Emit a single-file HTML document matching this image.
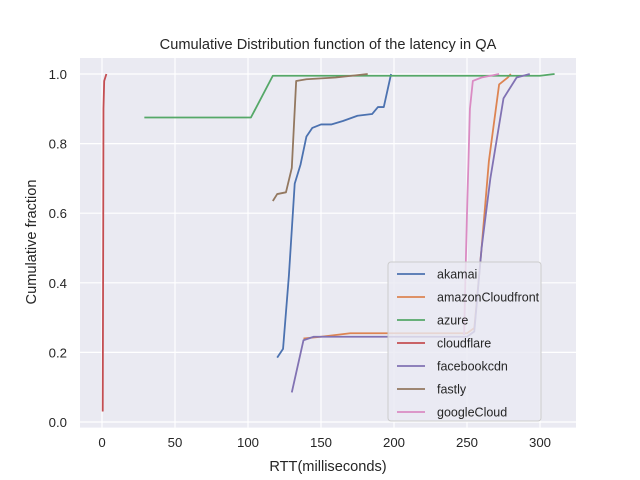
<!DOCTYPE html>
<html><head><meta charset="utf-8"><style>
body{margin:0;background:#fff;}
svg{display:block;font-family:"Liberation Sans",sans-serif;}
</style></head><body>
<svg id="chart" width="640" height="480">
<rect x="80" y="58" width="496" height="369.6" fill="#eaeaf2"/>
<g id="grid"></g>
<g id="series"></g>
<g id="ticks"></g>
<text x="328" y="49" text-anchor="middle" font-size="14.6" fill="#262626">Cumulative Distribution function of the latency in QA</text>
<text x="328" y="471" text-anchor="middle" font-size="14.6" fill="#262626">RTT(milliseconds)</text>
<text transform="translate(36,242) rotate(-90)" text-anchor="middle" font-size="14.6" fill="#262626">Cumulative fraction</text>
<g id="legend"></g>
</svg>
<script>
const xTicks=[0,50,100,150,200,250,300];
const yTicks=[0.0,0.2,0.4,0.6,0.8,1.0];
const seriesNames=["akamai","amazonCloudfront","azure","cloudflare","facebookcdn","fastly","googleCloud"];
const seriesColors=["#4c72b0","#dd8452","#55a868","#c44e52","#8172b3","#937860","#da8bc3"];
const akamaiX=[120,124,128,132,136,140,144,150,157,165,175,185,189,193,198];
const akamaiY=[0.185,0.21,0.42,0.685,0.74,0.82,0.845,0.855,0.855,0.865,0.88,0.885,0.905,0.905,1.0];
const amazonX=[138,150,160,170,250,255,260,265,272,278,280];
const amazonY=[0.24,0.245,0.25,0.255,0.255,0.27,0.5,0.75,0.97,0.99,1.0];
const azureX=[29,102,117,300,310];
const azureY=[0.875,0.875,0.995,0.995,1.0];
const cloudflareX=[0.5,0.8,1,1.5,3];
const cloudflareY=[0.03,0.5,0.9,0.98,1.0];
const facebookX=[130,138,145,250,255,260,266,275,284,293];
const facebookY=[0.085,0.235,0.245,0.245,0.26,0.5,0.7,0.93,0.99,1.0];
const fastlyX=[117,120,126,130,133,140,160,182];
const fastlyY=[0.635,0.655,0.66,0.73,0.98,0.985,0.99,1.0];
const googleX=[248,250,252,254,260,272];
const googleY=[0.25,0.6,0.9,0.98,0.99,1.0];
const allX=[akamaiX,amazonX,azureX,cloudflareX,facebookX,fastlyX,googleX];
const allY=[akamaiY,amazonY,azureY,cloudflareY,facebookY,fastlyY,googleY];

const NS="http://www.w3.org/2000/svg";
const sx=v=>102+v*1.46;
const sy=v=>422-v*348;
function mk(tag,attrs,parent){const e=document.createElementNS(NS,tag);for(const k in attrs)e.setAttribute(k,attrs[k]);parent.appendChild(e);return e;}
const grid=document.getElementById('grid'),ticks=document.getElementById('ticks');
xTicks.forEach(t=>{
 const l=mk('line',{x1:sx(t),x2:sx(t),y1:58,y2:427.6,stroke:'#fff','stroke-width':1.2},grid);
 
 
 const tx=mk('text',{x:sx(t),y:447,'text-anchor':'middle','font-size':13.2,fill:'#262626'},ticks);
 tx.textContent=t;
 
 
});
yTicks.forEach(t=>{
 const l=mk('line',{x1:80,x2:576,y1:sy(t),y2:sy(t),stroke:'#fff','stroke-width':1.2},grid);
 
 
 const tx=mk('text',{x:67,y:sy(t)+5,'text-anchor':'end','font-size':13.2,fill:'#262626'},ticks);
 tx.textContent=t.toFixed(1);
 
 
});
const sg=document.getElementById('series');
allX.forEach((xs,i)=>{
 const pts=xs.map((x,j)=>sx(x)+','+sy(allY[i][j])).join(' ');
 const p=mk('polyline',{points:pts,fill:'none',stroke:seriesColors[i],'stroke-width':1.8,'stroke-linejoin':'round'},sg);
 
 
});
const lg=document.getElementById('legend');
const box=mk('rect',{x:388,y:262,width:153,height:159,rx:3,fill:'#eaeaf2','fill-opacity':0.8,stroke:'#cccccc'},lg);


seriesNames.forEach((n,i)=>{
 const y=274+i*23;
 const l=mk('line',{x1:397,x2:425,y1:y,y2:y,stroke:seriesColors[i],'stroke-width':1.8},lg);
 
 
 const t=mk('text',{x:437,y:y+4.5,'font-size':12.5,fill:'#262626'},lg);
 t.textContent=n;
 
 
});
</script>
</body></html>
